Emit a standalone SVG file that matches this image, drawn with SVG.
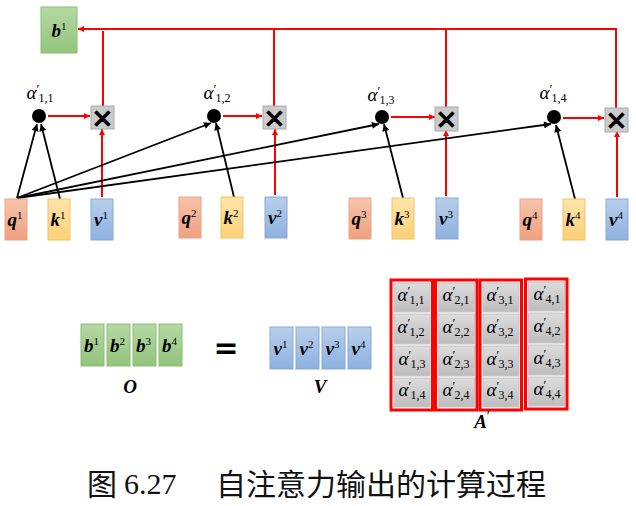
<svg xmlns="http://www.w3.org/2000/svg" width="636" height="506" viewBox="0 0 636 506">
<defs>
<linearGradient id="gq" x1="0" y1="0" x2="0" y2="1"><stop offset="0" stop-color="#f7c3ab"/><stop offset="1" stop-color="#efa07f"/></linearGradient>
<linearGradient id="gk" x1="0" y1="0" x2="0" y2="1"><stop offset="0" stop-color="#fee4a8"/><stop offset="1" stop-color="#fdd079"/></linearGradient>
<linearGradient id="gv" x1="0" y1="0" x2="0" y2="1"><stop offset="0" stop-color="#b8cfeb"/><stop offset="1" stop-color="#8db1df"/></linearGradient>
<linearGradient id="gb" x1="0" y1="0" x2="0" y2="1"><stop offset="0" stop-color="#b5d8a2"/><stop offset="1" stop-color="#92c47c"/></linearGradient>
<linearGradient id="gg" x1="0" y1="0" x2="0" y2="1"><stop offset="0" stop-color="#dcdcdc"/><stop offset="1" stop-color="#bdbdbd"/></linearGradient>
<marker id="ar" viewBox="0 0 10 10" refX="10" refY="5" markerWidth="7" markerHeight="6" markerUnits="userSpaceOnUse" orient="auto"><path d="M0,0 L10,5 L0,10 z" fill="#ff0000"/></marker>
<marker id="ab" viewBox="0 0 10 10" refX="10" refY="5" markerWidth="8" markerHeight="7" markerUnits="userSpaceOnUse" orient="auto"><path d="M0,0 L10,5 L0,10 z" fill="#000"/></marker>
</defs>
<style>
.q{fill:url(#gq);stroke:#e9a385;stroke-width:1}
.k{fill:url(#gk);stroke:#f0c468;stroke-width:1}
.v{fill:url(#gv);stroke:#86a9d6;stroke-width:1}
.b{fill:url(#gb);stroke:#8cbd76;stroke-width:1}
.cell{fill:url(#gg);stroke:#c6c6c6;stroke-width:1}
.xb{fill:#cbcbcb;stroke:#a9a9a9;stroke-width:1}
.xt{font-family:"DejaVu Sans",sans-serif;font-size:26px;fill:#000;stroke:#000;stroke-width:0.9;text-anchor:middle}
.col{fill:none;stroke:#ff0000;stroke-width:3}
.m{font-family:"Liberation Serif",serif;font-weight:bold;font-style:italic;font-size:19px;fill:#000;text-anchor:middle}
.sup{font-weight:normal;font-style:normal;font-size:11px}
.al{font-family:"Liberation Serif",serif;font-style:italic;font-size:19px;fill:#000;text-anchor:middle}
.pr{font-style:normal;font-size:13px}
.sub{font-style:normal;font-size:12px}
.red{stroke:#ff0000;stroke-width:2;fill:none}
.blk{stroke:#000;stroke-width:1.8;fill:none}
.dot{fill:#000}
.lbl{font-family:"Liberation Serif",serif;font-weight:bold;font-style:italic;font-size:19px;fill:#000;text-anchor:middle}
.cap{font-family:"Noto Sans CJK SC","Noto Sans CJK TC",sans-serif;font-size:30px;fill:#111}
.capn{font-family:"Liberation Serif",serif;font-size:30px;fill:#111}
</style>

<g id="connectors">
<line class="red" x1="48" y1="116" x2="90" y2="116" marker-end="url(#ar)"/>
<line class="red" x1="223" y1="116" x2="262" y2="116" marker-end="url(#ar)"/>
<line class="red" x1="391" y1="117" x2="435" y2="117" marker-end="url(#ar)"/>
<line class="red" x1="563" y1="118" x2="604" y2="118" marker-end="url(#ar)"/>
<line class="red" x1="102" y1="197" x2="102" y2="129" marker-end="url(#ar)"/>
<line class="red" x1="275" y1="195" x2="275" y2="129" marker-end="url(#ar)"/>
<line class="red" x1="446" y1="196" x2="446" y2="130" marker-end="url(#ar)"/>
<line class="red" x1="617" y1="197" x2="617" y2="131" marker-end="url(#ar)"/>
<line class="red" x1="103" y1="106" x2="103" y2="31"/>
<line class="red" x1="274" y1="106" x2="274" y2="29"/>
<line class="red" x1="446" y1="107" x2="446" y2="29"/>
<polyline class="red" points="616,108 616,29 78,29" marker-end="url(#ar)"/>
<line class="blk" x1="17" y1="198" x2="37" y2="124" marker-end="url(#ab)"/>
<line class="blk" x1="17" y1="198" x2="211" y2="123" marker-end="url(#ab)"/>
<line class="blk" x1="17" y1="198" x2="379" y2="124" marker-end="url(#ab)"/>
<line class="blk" x1="17" y1="198" x2="551" y2="124" marker-end="url(#ab)"/>
<line class="blk" x1="60" y1="199" x2="41" y2="124" marker-end="url(#ab)"/>
<line class="blk" x1="234" y1="197" x2="216" y2="123" marker-end="url(#ab)"/>
<line class="blk" x1="403" y1="198" x2="384" y2="124" marker-end="url(#ab)"/>
<line class="blk" x1="575" y1="199" x2="556" y2="125" marker-end="url(#ab)"/>
</g>

<g id="b1-top"><rect class="b" x="41" y="7" width="36" height="46"/><text class="m" x="59" y="37">b<tspan class="sup" dy="-7">1</tspan></text></g>

<g id="alpha11"><circle class="dot" cx="39" cy="116" r="7"/><text class="al" x="40" y="99">α<tspan class="pr" dy="-6">′</tspan><tspan class="sub" dx="-1" dy="9">1,1</tspan></text></g>
<g id="mul1"><rect class="xb" x="91" y="106" width="23" height="23"/><text class="xt" x="102.5" y="127.5">✕</text></g>
<g id="q1"><rect class="q" x="5" y="199" width="22" height="41"/><text class="m" x="15" y="226">q<tspan class="sup" dy="-7">1</tspan></text></g>
<g id="k1"><rect class="k" x="48" y="199" width="22" height="41"/><text class="m" x="58" y="226">k<tspan class="sup" dy="-7">1</tspan></text></g>
<g id="v1"><rect class="v" x="91" y="199" width="22" height="41"/><text class="m" x="101" y="226">v<tspan class="sup" dy="-7">1</tspan></text></g>

<g id="alpha12"><circle class="dot" cx="214" cy="116" r="7"/><text class="al" x="217" y="99">α<tspan class="pr" dy="-6">′</tspan><tspan class="sub" dx="-1" dy="9">1,2</tspan></text></g>
<g id="mul2"><rect class="xb" x="263" y="106" width="23" height="23"/><text class="xt" x="274.5" y="127.5">✕</text></g>
<g id="q2"><rect class="q" x="179" y="197" width="22" height="41"/><text class="m" x="189" y="224">q<tspan class="sup" dy="-7">2</tspan></text></g>
<g id="k2"><rect class="k" x="221" y="197" width="22" height="41"/><text class="m" x="231" y="224">k<tspan class="sup" dy="-7">2</tspan></text></g>
<g id="v2"><rect class="v" x="265" y="197" width="22" height="41"/><text class="m" x="275" y="224">v<tspan class="sup" dy="-7">2</tspan></text></g>

<g id="alpha13"><circle class="dot" cx="382" cy="117" r="7"/><text class="al" x="381" y="101">α<tspan class="pr" dy="-6">′</tspan><tspan class="sub" dx="-1" dy="9">1,3</tspan></text></g>
<g id="mul3"><rect class="xb" x="435" y="107" width="23" height="24"/><text class="xt" x="446.5" y="129">✕</text></g>
<g id="q3"><rect class="q" x="349" y="198" width="22" height="41"/><text class="m" x="359" y="225">q<tspan class="sup" dy="-7">3</tspan></text></g>
<g id="k3"><rect class="k" x="392" y="198" width="22" height="41"/><text class="m" x="402" y="225">k<tspan class="sup" dy="-7">3</tspan></text></g>
<g id="v3"><rect class="v" x="436" y="198" width="22" height="41"/><text class="m" x="446" y="225">v<tspan class="sup" dy="-7">3</tspan></text></g>

<g id="alpha14"><circle class="dot" cx="554" cy="117" r="7"/><text class="al" x="553" y="99">α<tspan class="pr" dy="-6">′</tspan><tspan class="sub" dx="-1" dy="9">1,4</tspan></text></g>
<g id="mul4"><rect class="xb" x="605" y="108" width="23" height="24"/><text class="xt" x="616.5" y="130">✕</text></g>
<g id="q4"><rect class="q" x="520" y="199" width="22" height="41"/><text class="m" x="530" y="226">q<tspan class="sup" dy="-7">4</tspan></text></g>
<g id="k4"><rect class="k" x="563" y="199" width="22" height="41"/><text class="m" x="573" y="226">k<tspan class="sup" dy="-7">4</tspan></text></g>
<g id="v4"><rect class="v" x="606" y="199" width="22" height="41"/><text class="m" x="616" y="226">v<tspan class="sup" dy="-7">4</tspan></text></g>

<g id="O">
<rect class="b" x="81" y="324" width="23" height="42"/><text class="m" x="91.5" y="352">b<tspan class="sup" dy="-7">1</tspan></text>
<rect class="b" x="107" y="324" width="23" height="42"/><text class="m" x="117.5" y="352">b<tspan class="sup" dy="-7">2</tspan></text>
<rect class="b" x="133" y="324" width="23" height="42"/><text class="m" x="143.5" y="352">b<tspan class="sup" dy="-7">3</tspan></text>
<rect class="b" x="159" y="324" width="23" height="42"/><text class="m" x="169.5" y="352">b<tspan class="sup" dy="-7">4</tspan></text>
<text class="lbl" x="130" y="393">O</text>
</g>
<g id="eq"><text x="226" y="358" font-family="DejaVu Sans, sans-serif" font-weight="bold" font-size="30" text-anchor="middle">=</text></g>

<g id="V">
<rect class="v" x="270" y="327" width="23" height="42"/><text class="m" x="280.5" y="355">v<tspan class="sup" dy="-7">1</tspan></text>
<rect class="v" x="296" y="327" width="23" height="42"/><text class="m" x="306.5" y="355">v<tspan class="sup" dy="-7">2</tspan></text>
<rect class="v" x="322" y="327" width="23" height="42"/><text class="m" x="332.5" y="355">v<tspan class="sup" dy="-7">3</tspan></text>
<rect class="v" x="348" y="327" width="23" height="42"/><text class="m" x="358.5" y="355">v<tspan class="sup" dy="-7">4</tspan></text>
<text class="lbl" x="320" y="393">V</text>
</g>

<g id="A">
<g id="Acol1">
<rect class="cell" x="394" y="283" width="36" height="29"/><text class="al" x="411" y="301">α<tspan class="pr" dy="-6">′</tspan><tspan class="sub" dx="-1" dy="9">1,1</tspan></text>
<rect class="cell" x="394" y="314" width="36" height="30"/><text class="al" x="411" y="333">α<tspan class="pr" dy="-6">′</tspan><tspan class="sub" dx="-1" dy="9">1,2</tspan></text>
<rect class="cell" x="394" y="346" width="36" height="30"/><text class="al" x="412" y="365">α<tspan class="pr" dy="-6">′</tspan><tspan class="sub" dx="-1" dy="9">1,3</tspan></text>
<rect class="cell" x="394" y="378" width="36" height="29"/><text class="al" x="412" y="396">α<tspan class="pr" dy="-6">′</tspan><tspan class="sub" dx="-1" dy="9">1,4</tspan></text>
<rect class="col" x="391" y="280" width="41.5" height="130"/>
</g>
<g id="Acol2">
<rect class="cell" x="438.5" y="283" width="36" height="29"/><text class="al" x="456" y="301">α<tspan class="pr" dy="-6">′</tspan><tspan class="sub" dx="-1" dy="9">2,1</tspan></text>
<rect class="cell" x="438.5" y="314" width="36" height="30"/><text class="al" x="456" y="333">α<tspan class="pr" dy="-6">′</tspan><tspan class="sub" dx="-1" dy="9">2,2</tspan></text>
<rect class="cell" x="438.5" y="346" width="36" height="30"/><text class="al" x="456" y="365">α<tspan class="pr" dy="-6">′</tspan><tspan class="sub" dx="-1" dy="9">2,3</tspan></text>
<rect class="cell" x="438.5" y="378" width="36" height="29"/><text class="al" x="456" y="396">α<tspan class="pr" dy="-6">′</tspan><tspan class="sub" dx="-1" dy="9">2,4</tspan></text>
<rect class="col" x="435.5" y="280" width="41.5" height="130"/>
</g>
<g id="Acol3">
<rect class="cell" x="483" y="283" width="36" height="29"/><text class="al" x="500" y="301">α<tspan class="pr" dy="-6">′</tspan><tspan class="sub" dx="-1" dy="9">3,1</tspan></text>
<rect class="cell" x="483" y="314" width="36" height="30"/><text class="al" x="500" y="333">α<tspan class="pr" dy="-6">′</tspan><tspan class="sub" dx="-1" dy="9">3,2</tspan></text>
<rect class="cell" x="483" y="346" width="36" height="30"/><text class="al" x="500" y="365">α<tspan class="pr" dy="-6">′</tspan><tspan class="sub" dx="-1" dy="9">3,3</tspan></text>
<rect class="cell" x="483" y="378" width="36" height="29"/><text class="al" x="500" y="396">α<tspan class="pr" dy="-6">′</tspan><tspan class="sub" dx="-1" dy="9">3,4</tspan></text>
<rect class="col" x="480" y="280" width="41.5" height="130"/>
</g>
<g id="Acol4">
<rect class="cell" x="528.5" y="282" width="36" height="29"/><text class="al" x="547" y="300">α<tspan class="pr" dy="-6">′</tspan><tspan class="sub" dx="-1" dy="9">4,1</tspan></text>
<rect class="cell" x="528.5" y="313" width="36" height="30"/><text class="al" x="547" y="332">α<tspan class="pr" dy="-6">′</tspan><tspan class="sub" dx="-1" dy="9">4,2</tspan></text>
<rect class="cell" x="528.5" y="345" width="36" height="30"/><text class="al" x="547" y="364">α<tspan class="pr" dy="-6">′</tspan><tspan class="sub" dx="-1" dy="9">4,3</tspan></text>
<rect class="cell" x="528.5" y="377" width="36" height="29"/><text class="al" x="547" y="395">α<tspan class="pr" dy="-6">′</tspan><tspan class="sub" dx="-1" dy="9">4,4</tspan></text>
<rect class="col" x="525.5" y="279" width="41.5" height="130"/>
</g>
<text class="lbl" x="482" y="428">A<tspan font-style="normal" font-weight="normal" dy="-7" font-size="14">′</tspan></text>
</g>

<g id="caption">
<text class="cap" x="87" y="495">图</text>
<text class="capn" x="124" y="494">6.27</text>
<text class="cap" x="216" y="495">自注意力输出的计算过程</text>
</g>
</svg>
